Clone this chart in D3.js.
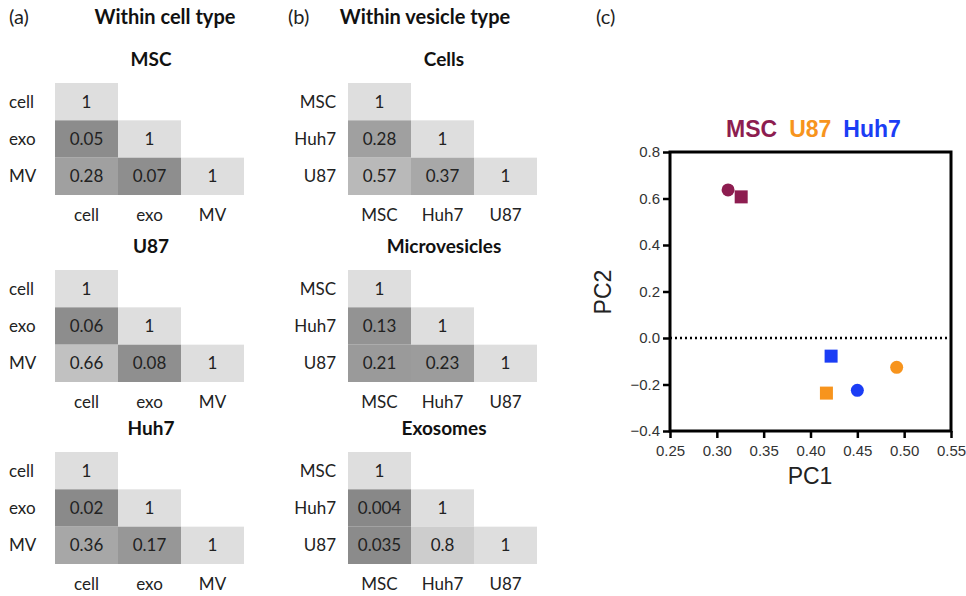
<!DOCTYPE html>
<html>
<head>
<meta charset="utf-8">
<script src="https://cdn.jsdelivr.net/npm/d3@7"></script>
<style>
  body { margin: 0; background: #fff; }
  svg { display: block; }
</style>
</head>
<body>
<svg width="966" height="596"></svg>
<script>
// panel (a) - within cell type
var cellTitles = ["MSC", "U87", "Huh7"]
var cellLabels = ["cell", "exo", "MV"]
var cellValues = [
  [[1], [0.05, 1], [0.28, 0.07, 1]],
  [[1], [0.06, 1], [0.66, 0.08, 1]],
  [[1], [0.02, 1], [0.36, 0.17, 1]]
]

// panel (b) - within vesicle type
var vesicleTitles = ["Cells", "Microvesicles", "Exosomes"]
var vesicleLabels = ["MSC", "Huh7", "U87"]
var vesicleValues = [
  [[1], [0.28, 1], [0.57, 0.37, 1]],
  [[1], [0.13, 1], [0.21, 0.23, 1]],
  [[1], [0.004, 1], [0.035, 0.8, 1]]
]

// panel (c) - PCA
var groups = ["MSC", "U87", "Huh7"]
var groupColors = ["#8d1d50", "#f7941d", "#1b3df5"]
var pcaPoints = [
  {group: "MSC",  shape: "circle", pc1: 0.312, pc2: 0.637},
  {group: "MSC",  shape: "square", pc1: 0.326, pc2: 0.607},
  {group: "Huh7", shape: "square", pc1: 0.422, pc2: -0.078},
  {group: "U87",  shape: "square", pc1: 0.417, pc2: -0.237},
  {group: "Huh7", shape: "circle", pc1: 0.450, pc2: -0.225},
  {group: "U87",  shape: "circle", pc1: 0.492, pc2: -0.126}
]
var xTicks = [0.25, 0.30, 0.35, 0.40, 0.45, 0.50, 0.55]
var yTicks = [-0.4, -0.2, 0.0, 0.2, 0.4, 0.6, 0.8]

var svg = d3.select("svg")
var font = "Lato, 'Open Sans', sans-serif"

var grey = d3.scaleLinear().domain([0, 1]).range(["#888888", "#dedede"])

// panel headers
svg.append("text").attr("x", 9).attr("y", 24).text("(a)")
  .attr("font-family", font).attr("font-size", 20).attr("fill", "#222")
svg.append("text").attr("x", 165).attr("y", 24).text("Within cell type")
  .attr("text-anchor", "middle").attr("font-family", font).attr("font-weight", "bold")
  .attr("font-size", 20).attr("fill", "#111")
svg.append("text").attr("x", 288).attr("y", 24).text("(b)")
  .attr("font-family", font).attr("font-size", 20).attr("fill", "#222")
svg.append("text").attr("x", 425).attr("y", 24).text("Within vesicle type")
  .attr("text-anchor", "middle").attr("font-family", font).attr("font-weight", "bold")
  .attr("font-size", 20).attr("fill", "#111")
svg.append("text").attr("x", 596).attr("y", 24).text("(c)")
  .attr("font-family", font).attr("font-size", 20).attr("fill", "#222")

var blockTops = [83, 270, 452]

var drawBlock = function(left, top, title, labels, values, labelAlign){
  var g = svg.append("g")
  var x = d3.scaleBand().domain(labels).range([left, left + 189])
  var y = d3.scaleBand().domain(labels).range([top, top + 112])

  g.append("text").attr("x", left + 96).attr("y", top - 17).text(title)
    .attr("text-anchor", "middle").attr("font-family", font).attr("font-weight", "bold")
    .attr("font-size", 19).attr("fill", "#111")

  var cells = []
  values.forEach(function(row, i){
    row.forEach(function(v, j){
      cells.push({row: labels[i], col: labels[j], value: v})
    })
  })

  g.selectAll("rect").data(cells).enter().append("rect")
    .attr("x", function(d){ return x(d.col) })
    .attr("y", function(d){ return y(d.row) })
    .attr("width", x.bandwidth())
    .attr("height", y.bandwidth())
    .attr("fill", function(d){ return grey(d.value) })

  g.selectAll("text.val").data(cells).enter().append("text")
    .attr("class", "val")
    .attr("x", function(d){ return x(d.col) + x.bandwidth() / 2 })
    .attr("y", function(d){ return y(d.row) + y.bandwidth() / 2 + 6 })
    .attr("text-anchor", "middle").attr("font-family", font).attr("font-size", 17)
    .attr("fill", "#222")
    .text(function(d){ return String(d.value) })

  g.selectAll("text.rowlab").data(labels).enter().append("text")
    .attr("class", "rowlab")
    .attr("x", labelAlign == "start" ? 9 : left - 12)
    .attr("y", function(d){ return y(d) + y.bandwidth() / 2 + 6 })
    .attr("text-anchor", labelAlign).attr("font-family", font).attr("font-size", 17)
    .attr("fill", "#222")
    .text(function(d){ return d })

  g.selectAll("text.collab").data(labels).enter().append("text")
    .attr("class", "collab")
    .attr("x", function(d){ return x(d) + x.bandwidth() / 2 })
    .attr("y", top + 112 + 26)
    .attr("text-anchor", "middle").attr("font-family", font).attr("font-size", 17)
    .attr("fill", "#222")
    .text(function(d){ return d })
}

cellTitles.forEach(function(t, i){
  drawBlock(55, blockTops[i], t, cellLabels, cellValues[i], "start")
})
vesicleTitles.forEach(function(t, i){
  drawBlock(348, blockTops[i], t, vesicleLabels, vesicleValues[i], "end")
})

// scatter
var xs = d3.scaleLinear().domain([0.25, 0.55]).range([670, 951])
var ys = d3.scaleLinear().domain([-0.4, 0.8]).range([431, 152])
var color = d3.scaleOrdinal().domain(groups).range(groupColors)
var axisFont = "Arial, 'Liberation Sans', sans-serif"

var xAxis = svg.append("g").attr("transform", "translate(0,431)")
  .call(d3.axisBottom(xs).tickValues(xTicks).tickFormat(d3.format(".2f")).tickSizeOuter(0).tickSize(7))
var yAxis = svg.append("g").attr("transform", "translate(670,0)")
  .call(d3.axisLeft(ys).tickValues(yTicks).tickFormat(d3.format(".1f")).tickSizeOuter(0).tickSize(7))

;[xAxis, yAxis].forEach(function(a){
  a.select(".domain").remove()
  a.selectAll("line").attr("stroke", "#000").attr("stroke-width", 2.5)
  a.selectAll("text").attr("font-family", axisFont).attr("font-size", 15).attr("fill", "#333")
})
xAxis.selectAll("text").attr("dy", "1.0em")

// dotted zero line
svg.append("line")
  .attr("x1", xs(0.25)).attr("x2", xs(0.55))
  .attr("y1", ys(0)).attr("y2", ys(0))
  .attr("stroke", "#000").attr("stroke-width", 2.5).attr("stroke-dasharray", "2,3")

// frame
svg.append("rect")
  .attr("x", xs(0.25)).attr("y", ys(0.8))
  .attr("width", xs(0.55) - xs(0.25)).attr("height", ys(-0.4) - ys(0.8))
  .attr("fill", "none").attr("stroke", "#000").attr("stroke-width", 3)

svg.selectAll("circle.pt").data(pcaPoints.filter(function(d){ return d.shape == "circle" }))
  .enter().append("circle").attr("class", "pt")
  .attr("cx", function(d){ return xs(d.pc1) })
  .attr("cy", function(d){ return ys(d.pc2) })
  .attr("r", 6.5)
  .attr("fill", function(d){ return color(d.group) })

svg.selectAll("rect.pt").data(pcaPoints.filter(function(d){ return d.shape == "square" }))
  .enter().append("rect").attr("class", "pt")
  .attr("x", function(d){ return xs(d.pc1) - 6.5 })
  .attr("y", function(d){ return ys(d.pc2) - 6.5 })
  .attr("width", 13).attr("height", 13)
  .attr("fill", function(d){ return color(d.group) })

// axis titles
svg.append("text").attr("x", 810).attr("y", 484).text("PC1")
  .attr("text-anchor", "middle").attr("font-family", axisFont).attr("font-size", 23).attr("fill", "#222")
svg.append("text").attr("transform", "translate(611,292) rotate(-90)").text("PC2")
  .attr("text-anchor", "middle").attr("font-family", axisFont).attr("font-size", 23).attr("fill", "#222")

// legend words
var legend = svg.append("text").attr("x", 726).attr("y", 137)
  .attr("font-family", axisFont).attr("font-weight", "bold").attr("font-size", 23)
groups.forEach(function(g, i){
  legend.append("tspan").attr("dx", i == 0 ? 0 : 12).attr("fill", color(g)).text(g)
})
</script>
</body>
</html>
